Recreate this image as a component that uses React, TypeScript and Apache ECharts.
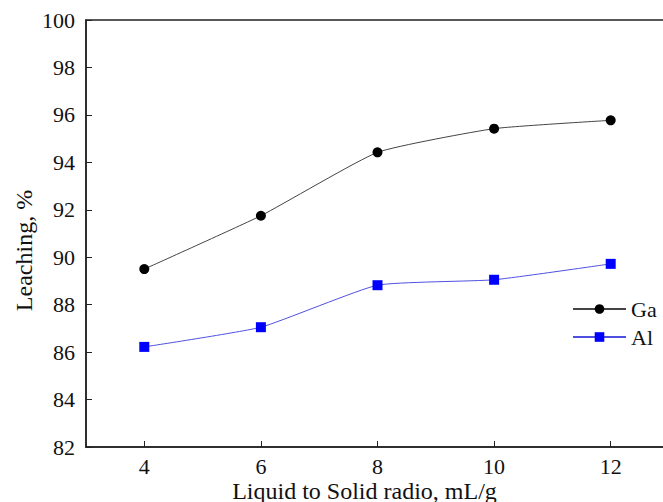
import React, { useEffect, useRef } from "react";
import * as echarts from "echarts";

const ratios = [4, 6, 8, 10, 12];
const gaValues = [89.5, 91.75, 94.42, 95.42, 95.77];
const alValues = [86.22, 87.05, 88.82, 89.05, 89.72];
const xTicks = [4, 6, 8, 10, 12];

const FONT = "'Liberation Serif', 'Times New Roman', serif";

export default function App() {
  const ref = useRef<HTMLDivElement>(null);
  useEffect(() => {
    document.body.style.margin = "0";
    if (!ref.current) return;
    const chart = echarts.init(ref.current, undefined, { renderer: "svg" });
    chart.setOption({
      animation: false,
      backgroundColor: "#ffffff",
      textStyle: { fontFamily: FONT },
      grid: {
        left: 86,
        top: 20,
        right: -6,
        bottom: 55,
        containLabel: false,
        outerBoundsMode: "none",
        show: true,
        borderColor: "#222",
        borderWidth: 1.5,
      },
      legend: {
        left: 567,
        top: 293,
        orient: "vertical",
        itemWidth: 53,
        itemHeight: 12,
        itemGap: 6,
        textStyle: { fontFamily: FONT, fontSize: 22, color: "#111" },
        data: ["Ga", "Al"],
      },
      xAxis: {
        type: "value",
        min: 3,
        max: 13,
        name: "Liquid to Solid radio, mL/g",
        nameLocation: "middle",
        nameGap: 32,
        nameMoveOverlap: false,
        nameTextStyle: { fontFamily: FONT, fontSize: 24, color: "#111", padding: [0, 26, 0, 0] },
        axisLine: { lineStyle: { color: "#222", width: 1.5 } },
        axisTick: { inside: true, length: 6, customValues: xTicks, lineStyle: { color: "#222" } },
        axisLabel: { customValues: xTicks, fontFamily: FONT, fontSize: 22, color: "#111", margin: 8 },
        splitLine: { show: false },
      },
      yAxis: {
        type: "value",
        min: 82,
        max: 100,
        interval: 2,
        name: "Leaching, %",
        nameLocation: "middle",
        nameGap: 50,
        nameMoveOverlap: false,
        nameTextStyle: { fontFamily: FONT, fontSize: 24, color: "#111", padding: [0, 34, 0, 0] },
        axisLine: { show: true, lineStyle: { color: "#222", width: 1.5 } },
        axisTick: { show: true, inside: true, length: 6, lineStyle: { color: "#222" } },
        axisLabel: { fontFamily: FONT, fontSize: 22, color: "#111", margin: 11 },
        splitLine: { show: false },
      },
      series: [
        {
          name: "Ga",
          type: "line",
          data: ratios.map((x, i) => [x, gaValues[i]]),
          smooth: 0.15,
          symbol: "circle",
          symbolSize: 10,
          itemStyle: { color: "#000" },
          lineStyle: { color: "#444", width: 1 },
        },
        {
          name: "Al",
          type: "line",
          data: ratios.map((x, i) => [x, alValues[i]]),
          smooth: 0.15,
          symbol: "rect",
          symbolSize: 10,
          itemStyle: { color: "#0000ff" },
          lineStyle: { color: "#5050e0", width: 1 },
        },
      ],
    });
    return () => chart.dispose();
  }, []);
  return <div ref={ref} style={{ width: 663, height: 502 }} />;
}
